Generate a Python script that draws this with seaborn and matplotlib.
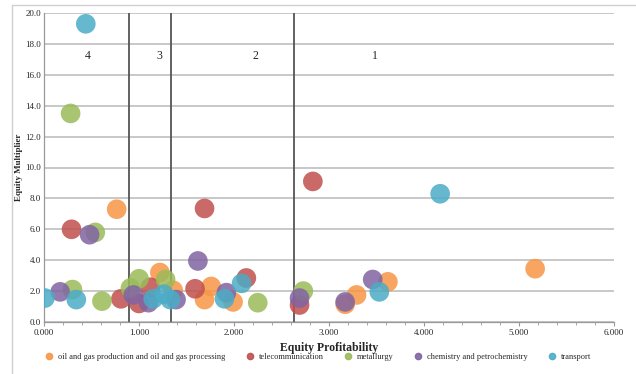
import numpy as np
import pandas as pd
import matplotlib.pyplot as plt
from matplotlib.lines import Line2D
import seaborn as sns

# series names
sectors = [
    "oil and gas production and oil and gas processing",
    "telecommunication",
    "metallurgy",
    "chemistry and petrochemistry",
    "transport",
]
colors = ["#F79646", "#C0504D", "#9BBB59", "#8064A2", "#4BACC6"]

# values (equity profitability, equity multiplier)
oil_x = [0.765, 1.22, 1.36, 1.76, 1.69, 1.99, 3.17, 3.29, 3.62, 5.17]
oil_y = [7.3, 3.2, 2.05, 2.3, 1.45, 1.3, 1.15, 1.75, 2.6, 3.45]

tel_x = [0.29, 0.81, 1.0, 1.12, 1.59, 1.69, 2.13, 2.69, 2.83]
tel_y = [6.0, 1.5, 1.2, 2.25, 2.15, 7.35, 2.85, 1.1, 9.1]

met_x = [0.28, 0.54, 0.30, 0.61, 0.91, 1.0, 1.28, 2.25, 2.73]
met_y = [13.5, 5.8, 2.1, 1.35, 2.2, 2.8, 2.75, 1.25, 2.0]

chem_x = [0.48, 0.17, 0.94, 1.10, 1.39, 1.62, 1.92, 2.69, 3.17, 3.46]
chem_y = [5.65, 1.95, 1.75, 1.25, 1.45, 3.95, 1.9, 1.55, 1.3, 2.75]

tr_x = [0.44, 0.01, 0.34, 1.15, 1.26, 1.33, 1.9, 2.08, 3.53, 4.17]
tr_y = [19.3, 1.55, 1.45, 1.5, 1.8, 1.45, 1.5, 2.5, 1.95, 8.3]

# zone borders and zone labels
borders = [0.895, 1.335, 2.63]
zone_names = ["4", "3", "2", "1"]
zone_x = [0.46, 1.21, 2.23, 3.48]
zone_y = 17.2

frames = []
for name, xs, ys in zip(sectors, [oil_x, tel_x, met_x, chem_x, tr_x],
                        [oil_y, tel_y, met_y, chem_y, tr_y]):
    frames.append(pd.DataFrame({"x": xs, "y": ys, "sector": name}))
df = pd.concat(frames, ignore_index=True)

sns.set_style("white")
plt.rcParams["font.family"] = ["Liberation Serif", "DejaVu Serif"]

fig = plt.figure(figsize=(6.36, 3.74), dpi=100)
ax = fig.add_axes([44/636, 1-322/374, 570/636, 309/374])

sns.scatterplot(data=df, x="x", y="y", hue="sector", hue_order=sectors,
                palette=colors, s=200, alpha=0.85, edgecolor="none",
                legend=False, ax=ax, zorder=3)

for b in borders:
    ax.plot([b, b], [0, 20], color="#555555", lw=1.3, zorder=2)
for lab, zx in zip(zone_names, zone_x):
    ax.text(zx, zone_y, lab, ha="center", va="center", fontsize=8.5)

ax.set_xlim(0, 6)
ax.set_ylim(0, 20)
ax.set_xticks(np.arange(0, 6.01, 1))
ax.set_xticks(np.arange(0, 6.01, 0.2), minor=True)
ax.set_yticks(np.arange(0, 20.01, 2))
ax.set_xticklabels([f"{v:.3f}" for v in np.arange(0, 6.01, 1)])
ax.set_yticklabels([f"{v:.1f}" for v in np.arange(0, 20.01, 2)])
ax.tick_params(axis="both", labelsize=6.5, length=3, color="#999999", pad=2)
ax.tick_params(axis="x", which="minor", length=2, color="#999999")
ax.tick_params(axis="y", length=0)
ax.xaxis.set_ticks_position("bottom")

ax.grid(axis="y", color="#BFBFBF", lw=1.2, zorder=0)
ax.grid(axis="x", visible=False)
ax.set_axisbelow(True)
for sp in ["top", "right"]:
    ax.spines[sp].set_visible(False)
for sp in ["left", "bottom"]:
    ax.spines[sp].set_color("#999999")
    ax.spines[sp].set_linewidth(0.9)

ax.set_xlabel("Equity Profitability", fontsize=8.5, fontweight="bold", labelpad=4)
ax.set_ylabel("Equity Multiplier", fontsize=6.5, fontweight="bold", labelpad=2)

handles = [Line2D([], [], marker="o", ls="none", color=c, markersize=4.5, alpha=0.9)
           for c in colors]
fig.legend(handles, sectors, loc="center", bbox_to_anchor=(0.497, 0.045), ncol=5,
           frameon=False, fontsize=6, handletextpad=0.1, columnspacing=1.9,
           borderaxespad=0)

# light outer frame of the chart
fig.add_artist(Line2D([12/636, 1], [1-5/374, 1-5/374], color="#D0D0D0", lw=1))
fig.add_artist(Line2D([12/636, 12/636], [0, 1-5/374], color="#D0D0D0", lw=1))

fig.savefig("out.png", dpi=100)
